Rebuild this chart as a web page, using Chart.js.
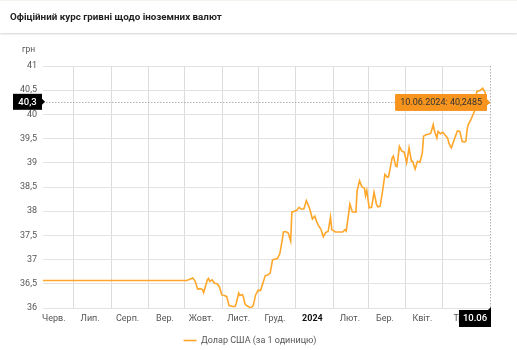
<!DOCTYPE html>
<html>
<head>
<meta charset="utf-8">
<script src="https://cdn.jsdelivr.net/npm/chart.js@4/dist/chart.umd.min.js"></script>
<style>
  html, body { margin: 0; padding: 0; background: #fff; }
  #wrap { position: relative; width: 517px; height: 350px; overflow: hidden; }
  #title {
    position: absolute; left: 0; top: 0; width: 517px; height: 33px;
    border-top: 1px solid #f4f3ee;
    box-sizing: border-box; padding-left: 10px;
    font: bold 9.8px Roboto, "Noto Sans", sans-serif; color: #222;
    line-height: 32px; background: #fff;
    box-shadow: 0 1px 2px rgba(0,0,0,0.18);
    z-index: 2;
  }
  canvas { position: absolute; left: 0; top: 0; }
</style>
</head>
<body>
<div id="wrap">
  <div id="title">Офіційний курс гривні щодо іноземних валют</div>
  <canvas id="c" width="517" height="350"></canvas>
</div>
<script>
// ---- data ----
const startDate = '2023-06-06';           // day 0 of the x axis
const seriesName = 'Долар США (за 1 одиницю)';
const unitLabel = 'грн';
const dayIndex = [0,119,122,124,126,128,130,132,133,136,137,138,140,142,144,146,148,150,152,154,157,159,160,162,163,165,166,167,168,170,172,174,176,178,180,182,184,186,188,190,191,194,196,198,199,201,203,205,206,208,210,212,214,216,218,220,221,223,225,226,228,230,232,234,236,238,239,242,245,248,250,251,253,254,256,259,260,262,264,266,267,268,270,272,274,276,277,279,281,283,285,286,289,290,292,293,295,297,299,301,303,305,306,308,310,312,314,315,317,319,321,323,324,326,327,329,331,333,335,336,338,340,341,343,345,347,349,350,351,352,354,355,357,358,359,361,362,364,366,367,369,370];
const usdRate = [36.5686,36.5686,36.60,36.62,36.55,36.39,36.40,36.38,36.32,36.58,36.61,36.55,36.58,36.51,36.50,36.44,36.27,36.26,36.24,36.05,36.03,36.03,36.10,36.31,36.26,36.28,36.22,36.10,36.06,36.03,36.00,36.05,36.27,36.37,36.36,36.51,36.67,36.68,36.72,36.99,37.00,37.02,37.12,37.40,37.57,37.58,37.55,37.38,37.98,38.00,38.02,38.08,38.04,38.05,38.22,38.10,38.03,37.84,37.90,37.82,37.70,37.63,37.47,37.56,37.58,37.88,37.62,37.57,37.57,37.57,37.62,37.59,37.95,38.15,37.99,37.98,38.42,38.63,38.50,38.48,38.32,38.43,38.07,38.08,38.39,38.15,38.09,38.10,38.40,38.76,38.70,38.71,39.10,39.14,38.93,38.92,39.34,39.24,39.22,39.00,39.31,39.03,39.03,38.87,39.03,39.01,39.21,39.55,39.58,39.59,39.61,39.79,39.66,39.51,39.65,39.60,39.63,39.57,39.51,39.40,39.31,39.45,39.52,39.66,39.65,39.44,39.43,39.44,39.68,39.79,39.88,39.94,40.06,40.23,40.47,40.49,40.50,40.54,40.45,40.26,40.23,40.2485];
const monthLabels = ['Черв.','Лип.','Серп.','Вер.','Жовт.','Лист.','Груд.','2024','Лют.','Бер.','Квіт.','Трав.'];
const labelDates = ['2023-06-15','2023-07-15','2023-08-15','2023-09-15','2023-10-15','2023-11-15','2023-12-15','2024-01-15','2024-02-15','2024-03-15','2024-04-15','2024-05-20'];
const gridDates = ['2023-07-01','2023-08-01','2023-09-01','2023-10-01','2023-11-01','2023-12-01','2024-01-01','2024-02-01','2024-03-01','2024-04-01','2024-05-01'];
const yMin = 36, yMax = 41, yStep = 0.5;
const endDate = '2024-06-10';
const cursorValue = 40.26;                 // crosshair position on the y axis

// ---- helpers ----
const DAY = 86400000;
const t0 = Date.parse(startDate + 'T00:00:00Z');
const toDay = s => Math.round((Date.parse(s + 'T00:00:00Z') - t0) / DAY);
const dayToDate = d => new Date(t0 + d * DAY);
const pad = n => String(n).padStart(2, '0');
const fmtFull = d => { const dt = dayToDate(d); return pad(dt.getUTCDate()) + '.' + pad(dt.getUTCMonth() + 1) + '.' + dt.getUTCFullYear(); };
const fmtShort = d => { const dt = dayToDate(d); return pad(dt.getUTCDate()) + '.' + pad(dt.getUTCMonth() + 1); };
const comma = v => String(v).replace('.', ',');

const labelDays = labelDates.map(toDay);
const gridDays = gridDates.map(toDay);
const xMax = toDay(endDate);
const points = dayIndex.map((d, i) => ({ x: d, y: usdRate[i] }));
const lastIdx = points.length - 1;

const FONT = 'Roboto, "Noto Sans", sans-serif';
const LINE = '#FFA62B';
const GRID = '#e2e2e2';
const VGRID = '#dcdcdc';

const crosshair = {
  id: 'crosshair',
  afterInit(chart) {
    const lg = chart.legend;
    if (lg) {
      const orig = lg.fit;
      lg.fit = function () { orig.call(this); this.height = 26; };
    }
  },
  afterDraw(chart) {
    const { ctx, chartArea: a, scales } = chart;
    const xs = scales.x, ys = scales.y;
    const px = xs.getPixelForValue(points[lastIdx].x);
    const py = ys.getPixelForValue(cursorValue);
    ctx.save();
    // month boundary grid lines (placed through the x scale), drawn behind everything
    ctx.globalCompositeOperation = 'destination-over';
    ctx.fillStyle = VGRID;
    gridDays.forEach(d => {
      const x = Math.round(xs.getPixelForValue(d));
      if (x <= a.right) ctx.fillRect(x, a.top, 1, a.bottom - a.top);
    });
    ctx.globalCompositeOperation = 'source-over';
    // dotted crosshair lines
    ctx.fillStyle = '#b0b0b0';
    const rx = Math.round(px), ry = Math.round(py);
    for (let x = a.left; x < a.right; x += 3) ctx.fillRect(x, ry, 1.5, 1);
    for (let y = a.top; y < a.bottom; y += 3) ctx.fillRect(rx, y, 1, 1.5);
    // redraw tooltip above the dotted line
    if (chart.tooltip && chart.tooltip.draw) chart.tooltip.draw(ctx);
    // y label box
    ctx.fillStyle = '#000';
    const bR = a.left - 1, bW = 29, bH = 16;
    ctx.fillRect(bR - bW, py - bH / 2, bW, bH);
    ctx.beginPath();
    ctx.moveTo(bR, py - 3); ctx.lineTo(bR + 3, py); ctx.lineTo(bR, py + 3); ctx.closePath(); ctx.fill();
    ctx.fillStyle = '#fff';
    ctx.font = '500 9.5px ' + FONT;
    ctx.textAlign = 'center'; ctx.textBaseline = 'middle';
    ctx.fillText(comma((Math.round(cursorValue * 10) / 10).toFixed(1)), bR - bW / 2, py + 0.5);
    // x label box
    ctx.fillStyle = '#000';
    const xW = 32, xH = 17, xT = a.bottom + 2;
    const xR = px + 1;
    ctx.fillRect(xR - xW, xT, xW, xH);
    ctx.beginPath();
    ctx.moveTo(xR - 3, xT); ctx.lineTo(xR, xT - 3); ctx.lineTo(xR, xT); ctx.closePath(); ctx.fill();
    ctx.fillStyle = '#fff';
    ctx.fillText(fmtShort(points[lastIdx].x), xR - xW / 2, xT + xH / 2 + 0.5);
    // unit label
    ctx.fillStyle = '#555';
    ctx.font = '8.5px ' + FONT;
    ctx.textAlign = 'left';
    ctx.fillText(unitLabel, a.left - 21, a.top - 16);
    ctx.restore();
  }
};

const chart = new Chart(document.getElementById('c'), {
  type: 'line',
  data: {
    datasets: [{
      label: seriesName,
      data: points,
      borderColor: LINE,
      backgroundColor: LINE,
      borderWidth: 1.6,
      pointRadius: 0,
      pointHoverRadius: 0,
      tension: 0,
      fill: false
    }]
  },
  options: {
    responsive: false,
    animation: false,
    events: [],
    layout: { padding: { top: 66, left: 0, right: 17, bottom: 0 } },
    scales: {
      x: {
        type: 'linear', position: 'bottom', min: 0, max: xMax,
        afterBuildTicks: s => { s.ticks = labelDays.map((v, i) => ({ value: v, lbl: monthLabels[i] })); },
        afterFit: s => { s.height = 16; },
        ticks: {
          autoSkip: false, maxRotation: 0, padding: 5,
          color: c => (c.tick && c.tick.lbl === '2024') ? '#111' : '#555',
          font: c => (c.tick && c.tick.lbl === '2024') ? { family: FONT, size: 9, weight: 'bold' } : { family: FONT, size: 9 },
          callback: (v, i) => monthLabels[i]
        },
        grid: { display: false, drawTicks: false },
        border: { display: false }
      },
      y: {
        min: yMin, max: yMax,
        afterFit: s => { s.width = 43; },
        ticks: {
          stepSize: yStep, padding: 6, color: '#555',
          font: { family: FONT, size: 9 },
          callback: v => comma(v)
        },
        grid: { color: GRID, drawTicks: false },
        border: { display: false }
      },
      yr: {
        position: 'right', min: yMin, max: yMax,
        afterFit: s => { s.width = 10; },
        ticks: { display: false },
        grid: { display: false },
        border: { display: false }
      }
    },
    plugins: {
      legend: {
        position: 'bottom',
        labels: {
          usePointStyle: true, pointStyle: 'line', pointStyleWidth: 13,
          color: '#555', font: { family: FONT, size: 9 }, padding: 12
        }
      },
      tooltip: {
        enabled: true,
        xAlign: 'right', yAlign: 'center',
        backgroundColor: '#F7941D',
        bodyColor: '#333',
        bodyFont: { family: FONT, size: 9 },
        padding: { left: 5, right: 5, top: 3, bottom: 3 },
        cornerRadius: 1,
        caretSize: 3, caretPadding: 0,
        displayColors: false,
        callbacks: {
          title: () => '',
          label: c => fmtFull(c.raw.x) + ': ' + comma(c.raw.y)
        }
      }
    }
  },
  plugins: [crosshair]
});

const px = chart.scales.x.getPixelForValue(points[lastIdx].x);
const py = chart.scales.y.getPixelForValue(points[lastIdx].y);
chart.tooltip.setActiveElements([{ datasetIndex: 0, index: lastIdx }], { x: px, y: py });
chart.update();
</script>
</body>
</html>
